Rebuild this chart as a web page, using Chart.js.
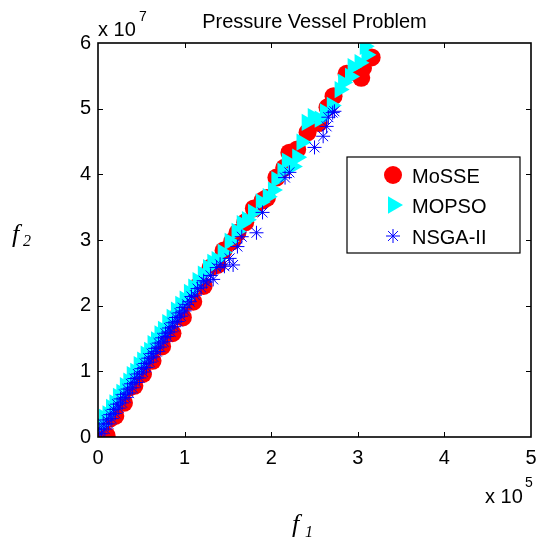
<!DOCTYPE html>
<html>
<head>
<meta charset="utf-8">
<script src="https://cdn.jsdelivr.net/npm/chart.js@4/dist/chart.umd.min.js"></script>
<style>
  html, body { margin: 0; padding: 0; background: #fff; }
</style>
</head>
<body>
<canvas id="chart" width="541" height="540"></canvas>
<script>
// f1 in units of 1e5, f2 in units of 1e7
const xTicks = [0, 1, 2, 3, 4, 5]
const yTicks = [0, 1, 2, 3, 4, 5, 6]
const seriesNames = ['MoSSE', 'MOPSO', 'NSGA-II']

const mosseX = [0.04, 0.10, 0.14, 0.20, 0.26, 0.30, 0.36, 0.42, 0.47, 0.52, 0.58, 0.63, 0.68, 0.74, 0.80, 0.86, 0.92, 0.98, 1.04, 1.10, 1.16, 1.22, 1.30, 1.38, 1.45, 1.55, 1.61, 1.70, 1.80, 1.90, 1.95, 2.06, 2.15, 2.21, 2.30, 2.42, 2.55, 2.65, 2.72, 2.87, 2.95, 3.04, 3.06, 3.16]
const mosseY = [0.12, 0.02, 0.28, 0.32, 0.55, 0.52, 0.75, 0.78, 0.98, 0.96, 1.18, 1.16, 1.40, 1.38, 1.60, 1.58, 1.84, 1.82, 2.06, 2.06, 2.30, 2.30, 2.58, 2.62, 2.84, 2.98, 3.11, 3.27, 3.48, 3.60, 3.64, 3.95, 4.10, 4.33, 4.38, 4.64, 4.78, 5.02, 5.19, 5.53, 5.56, 5.47, 5.62, 5.78]

const mopsoX = [0.03, 0.07, 0.11, 0.15, 0.19, 0.23, 0.27, 0.31, 0.35, 0.39, 0.43, 0.47, 0.51, 0.55, 0.59, 0.63, 0.67, 0.71, 0.75, 0.80, 0.85, 0.90, 0.95, 1.00, 1.05, 1.10, 1.15, 1.21, 1.27, 1.32, 1.37, 1.44, 1.52, 1.60, 1.66, 1.72, 1.79, 1.88, 1.96, 2.02, 2.06, 2.13, 2.18, 2.25, 2.30, 2.35, 2.41, 2.48, 2.56, 2.62, 2.70, 2.79, 2.83, 2.91, 2.94, 3.02, 3.10, 3.08]
const mopsoY = [0.18, 0.30, 0.35, 0.45, 0.52, 0.62, 0.68, 0.78, 0.85, 0.95, 1.00, 1.10, 1.17, 1.26, 1.32, 1.42, 1.48, 1.57, 1.64, 1.74, 1.82, 1.93, 2.02, 2.10, 2.20, 2.28, 2.38, 2.48, 2.58, 2.66, 2.70, 2.81, 2.98, 3.13, 3.25, 3.31, 3.42, 3.58, 3.66, 3.76, 3.92, 4.05, 4.20, 4.12, 4.26, 4.49, 4.79, 4.88, 4.84, 4.95, 5.05, 5.29, 5.40, 5.49, 5.64, 5.70, 5.82, 5.95]

const nsgaX = [0.02, 0.04, 0.06, 0.08, 0.10, 0.12, 0.14, 0.16, 0.18, 0.20, 0.22, 0.24, 0.26, 0.28, 0.30, 0.32, 0.34, 0.36, 0.38, 0.40, 0.42, 0.44, 0.46, 0.48, 0.50, 0.52, 0.54, 0.56, 0.58, 0.60, 0.62, 0.64, 0.66, 0.68, 0.70, 0.72, 0.74, 0.76, 0.78, 0.80, 0.82, 0.84, 0.86, 0.88, 0.90, 0.92, 0.94, 0.96, 0.98, 1.00, 1.03, 1.06, 1.08, 1.12, 1.15, 1.19, 1.22, 1.25, 1.30, 1.33, 1.37, 1.41, 1.46, 1.52, 1.56, 1.61, 1.66, 1.83, 1.90, 2.16, 2.21, 2.50, 2.60, 2.64, 2.66, 2.71, 2.73]
const nsgaY = [0.12, 0.05, 0.20, 0.12, 0.26, 0.20, 0.34, 0.28, 0.42, 0.36, 0.50, 0.44, 0.58, 0.52, 0.65, 0.60, 0.73, 0.67, 0.81, 0.75, 0.89, 0.83, 0.96, 0.90, 1.04, 0.99, 1.12, 1.06, 1.20, 1.14, 1.27, 1.22, 1.35, 1.30, 1.43, 1.37, 1.51, 1.45, 1.58, 1.53, 1.66, 1.60, 1.74, 1.68, 1.82, 1.76, 1.89, 1.84, 1.97, 1.92, 2.02, 2.06, 2.14, 2.16, 2.26, 2.28, 2.38, 2.36, 2.46, 2.40, 2.58, 2.63, 2.60, 2.72, 2.62, 2.90, 3.05, 3.11, 3.42, 3.95, 4.03, 4.41, 4.58, 4.73, 4.87, 4.94, 4.96]

const toPoints = (xs, ys) => xs.map((x, i) => ({ x, y: ys[i] }))

const font = 'Arial, "Liberation Sans", Helvetica, sans-serif'
const serif = '"Liberation Serif", "Times New Roman", serif'

// axes box with inward ticks, drawn over the markers like MATLAB
const decorations = {
  id: 'decorations',
  afterDatasetsDraw(chart) {
    const { ctx, chartArea: a, scales } = chart
    ctx.save()
    ctx.strokeStyle = '#000'
    ctx.lineWidth = 1
    xTicks.slice(1, -1).forEach(v => {
      const px = Math.round(scales.x.getPixelForValue(v)) + 0.5
      ctx.beginPath()
      ctx.moveTo(px, a.bottom); ctx.lineTo(px, a.bottom - 5)
      ctx.moveTo(px, a.top); ctx.lineTo(px, a.top + 5)
      ctx.stroke()
    })
    yTicks.slice(1, -1).forEach(v => {
      const py = Math.round(scales.y.getPixelForValue(v)) + 0.5
      ctx.beginPath()
      ctx.moveTo(a.left, py); ctx.lineTo(a.left + 5, py)
      ctx.moveTo(a.right, py); ctx.lineTo(a.right - 5, py)
      ctx.stroke()
    })
    ctx.lineWidth = 1.6
    ctx.strokeRect(a.left, a.top, a.right - a.left, a.bottom - a.top)
    ctx.restore()
  },
  afterDraw(chart) {
    const { ctx, chartArea: a } = chart
    ctx.save()
    ctx.fillStyle = '#000'
    // title
    ctx.font = `20px ${font}`
    ctx.textAlign = 'center'
    ctx.textBaseline = 'middle'
    ctx.fillText('Pressure Vessel Problem', (a.left + a.right) / 2, 22)
    // exponents
    ctx.textAlign = 'left'
    ctx.fillText('x 10', a.left, 30)
    ctx.fillText('x 10', 485, 497)
    ctx.font = `14px ${font}`
    ctx.fillText('7', 139, 17)
    ctx.fillText('5', 525, 483)
    // axis labels
    ctx.textBaseline = 'alphabetic'
    ctx.font = `italic 26px ${serif}`
    ctx.fillText('f', 292, 532)
    ctx.fillText('f', 12, 242)
    ctx.font = `italic 16px ${serif}`
    ctx.fillText('1', 305, 537)
    ctx.fillText('2', 23, 246)

    // legend
    const box = { x: 347, y: 157, w: 173, h: 96 }
    ctx.fillStyle = '#fff'
    ctx.fillRect(box.x, box.y, box.w, box.h)
    ctx.strokeStyle = '#000'
    ctx.lineWidth = 1.2
    ctx.strokeRect(box.x, box.y, box.w, box.h)
    const rows = [176, 206, 237]
    chart.data.datasets.slice().reverse().forEach((ds, i) => {
      const y = rows[i]
      ctx.fillStyle = ds.backgroundColor
      ctx.strokeStyle = ds.borderColor
      ctx.lineWidth = ds.borderWidth || 1
      Chart.helpers.drawPoint(ctx, {
        pointStyle: ds.pointStyle,
        radius: ds.pointRadius,
        rotation: ds.pointRotation || 0,
        borderWidth: ds.borderWidth
      }, 393, y - 1)
      ctx.fillStyle = '#000'
      ctx.font = `20px ${font}`
      ctx.textBaseline = 'middle'
      ctx.fillText(ds.label, 412, y + 1)
    })
    ctx.restore()
  }
}

new Chart(document.getElementById('chart'), {
  type: 'scatter',
  data: {
    datasets: [
      {
        label: seriesNames[2],
        data: toPoints(nsgaX, nsgaY),
        pointStyle: 'star',
        pointRadius: 7,
        backgroundColor: '#0000ff',
        borderColor: '#0000ff',
        borderWidth: 1
      },
      {
        label: seriesNames[1],
        data: toPoints(mopsoX, mopsoY),
        pointStyle: 'triangle',
        pointRotation: 90,
        pointRadius: 10,
        backgroundColor: '#00ffff',
        borderColor: '#00ffff',
        borderWidth: 0
      },
      {
        label: seriesNames[0],
        data: toPoints(mosseX, mosseY),
        pointStyle: 'circle',
        pointRadius: 9,
        backgroundColor: '#ff0000',
        borderColor: '#ff0000',
        borderWidth: 0
      }
    ]
  },
  options: {
    responsive: false,
    animation: false,
    layout: { padding: { top: 43, right: 10, left: 0, bottom: 0 } },
    plugins: { legend: { display: false }, tooltip: { enabled: false }, title: { display: false } },
    scales: {
      x: {
        min: 0, max: 5,
        afterFit: s => { s.height = 103; s.paddingLeft = 0; s.paddingRight = 0 },
        afterBuildTicks: s => { s.ticks = xTicks.map(v => ({ value: v })) },
        ticks: { color: '#000', font: { size: 20, family: font }, padding: 9, maxRotation: 0 },
        grid: { display: false, drawTicks: false },
        border: { display: false }
      },
      y: {
        min: 0, max: 6,
        afterFit: s => { s.width = 98; s.paddingTop = 0; s.paddingBottom = 0 },
        afterBuildTicks: s => { s.ticks = yTicks.map(v => ({ value: v })) },
        ticks: { color: '#000', font: { size: 20, family: font }, padding: 7 },
        grid: { display: false, drawTicks: false },
        border: { display: false }
      }
    }
  },
  plugins: [decorations]
})
</script>
</body>
</html>
